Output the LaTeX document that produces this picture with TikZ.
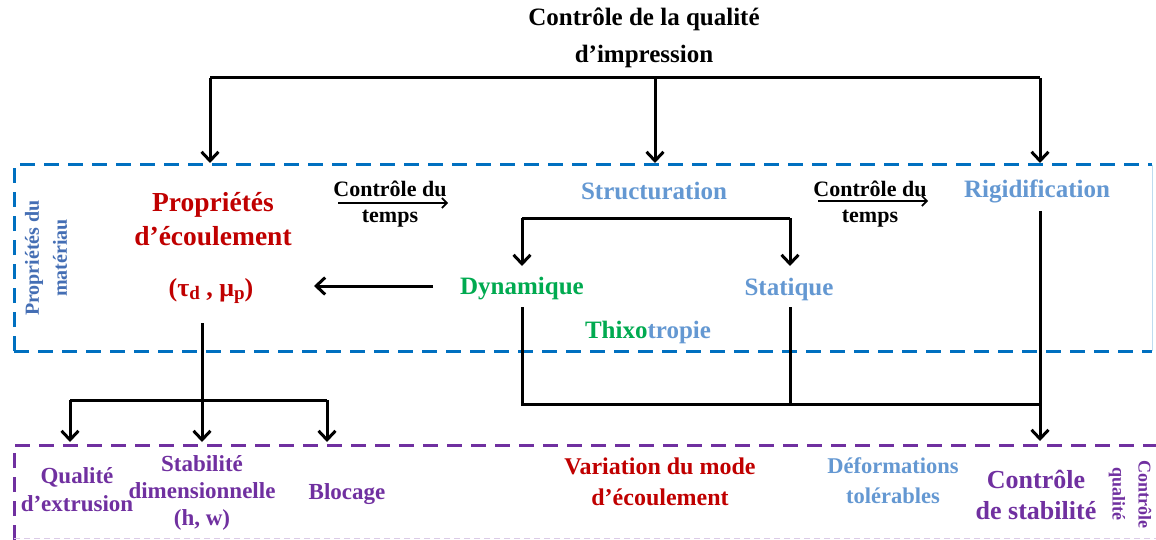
\documentclass[tikz,border=0pt]{standalone}
\usepackage{fontspec}
\setmainfont{Liberation Serif}
\usetikzlibrary{arrows.meta}
\definecolor{cred}{RGB}{192,0,0}
\definecolor{clblue}{RGB}{100,152,210}
\definecolor{cgreen}{RGB}{0,170,80}
\definecolor{cpurple}{RGB}{112,48,160}
\definecolor{cdblue}{RGB}{0,112,192}
\definecolor{csteel}{RGB}{68,110,180}
\newcommand\fsz[1]{\fontsize{#1}{#1}\selectfont}
\begin{document}
\begin{tikzpicture}[x=1pt,y=-1pt,
  lbl/.style={font=\bfseries, align=center, inner sep=0pt},
  conn/.style={line width=3pt, black},
  arr/.style={conn, -{Straight Barb[length=9pt,width=17pt]}},
  tarr/.style={line width=1.6pt, black, -{Straight Barb[length=5pt,width=10pt]}},
  bluebox/.style={cdblue, line width=3pt, dash pattern=on 15pt off 9pt},
  purplebox/.style={cpurple, line width=3pt, dash pattern=on 15pt off 9pt}]
\useasboundingbox (0,0) rectangle (1156,540);
\fill[white] (0,0) rectangle (1156,540);
% dashed frames
\draw[bluebox] (14,351) -- (14,165) -- (1152,165);
\draw[bluebox] (14,351) -- (1152,351);
\draw[cdblue!25, line width=0.8pt] (1152,165) -- (1152,351);
\draw[purplebox] (14,540) -- (14,445) -- (1156,445);
\draw[cpurple!25, line width=0.8pt, dash pattern=on 6pt off 4pt] (14,538) -- (1156,538);
% title
\node[lbl, font=\bfseries\fontsize{25}{37}\selectfont] (title) at (644,38) {Contrôle de la qualité\\d’impression};
% top level nodes
\node[lbl, cred, font=\bfseries\fontsize{27.5}{34}\selectfont] (prop) at (213,219) {Propriétés\\d’écoulement};
\node[lbl, cred, font=\bfseries\fsz{26}] (taumu) at (211,291) {(τ\raisebox{-0.3ex}{\fsz{19}d} , μ\raisebox{-0.3ex}{\fsz{19}p})};
\node[lbl, clblue, font=\bfseries\fsz{25}] (struct) at (654,191) {Structuration};
\node[lbl, clblue, font=\bfseries\fsz{25}] (rigid) at (1037,191) {Rigidification};
\node[lbl, cgreen, font=\bfseries\fsz{25}] (dyn) at (522,289) {Dynamique};
\node[lbl, clblue, font=\bfseries\fsz{25}] (stat) at (789,289) {Statique};
\node[lbl, font=\bfseries\fsz{25}] (thixo) at (648,332) {\textcolor{cgreen}{Thixo}\textcolor{clblue}{tropie}};
\node[lbl, font=\bfseries\fsz{22}] (ct1) at (390,189) {Contrôle du};
\node[lbl, font=\bfseries\fsz{22}] (tp1) at (390,219) {temps};
\node[lbl, font=\bfseries\fsz{22}] (ct2) at (870,189) {Contrôle du};
\node[lbl, font=\bfseries\fsz{22}] (tp2) at (870,219) {temps};
\node[lbl, csteel, rotate=90, font=\bfseries\fontsize{20}{28}\selectfont] (pmat) at (46,258) {Propriétés du\\matériau};
% bottom nodes
\node[lbl, cpurple, font=\bfseries\fontsize{23}{28}\selectfont] (qual) at (77,490) {Qualité\\d’extrusion};
\node[lbl, cpurple, font=\bfseries\fontsize{23}{27}\selectfont] (stab) at (202,493) {Stabilité\\dimensionnelle\\(h, w)};
\node[lbl, cpurple, font=\bfseries\fsz{23}] (bloc) at (347,494) {Blocage};
\node[lbl, cred, font=\bfseries\fontsize{24}{31}\selectfont] (var) at (660,482) {Variation du mode\\d’écoulement};
\node[lbl, clblue, font=\bfseries\fontsize{22.5}{30}\selectfont] (defo) at (893,481) {Déformations\\tolérables};
\node[lbl, cpurple, font=\bfseries\fontsize{26}{31}\selectfont] (cstab) at (1036,495) {Contrôle\\de stabilité};
\node[lbl, cpurple, rotate=-90, font=\bfseries\fontsize{18}{26}\selectfont] (cq) at (1130,494) {Contrôle\\qualité};
% coordinates
\coordinate (tl) at (210,78);
\coordinate (tm) at (655,78);
\coordinate (tr) at (1040,78);
\coordinate (al) at (210,163);
\coordinate (am) at (655,163);
\coordinate (ar) at (1040,163);
\coordinate (sl) at (522,218);
\coordinate (sr) at (790,218);
\coordinate (dl) at (522,266);
\coordinate (sd) at (790,266);
\coordinate (db) at (522,307);
\coordinate (sb) at (790,307);
\coordinate (rb) at (1040,211);
\coordinate (hl) at (522,404);
\coordinate (hm) at (790,404);
\coordinate (hr) at (1040,404);
\coordinate (rt) at (1040,441);
\coordinate (pa) at (202,323);
\coordinate (pj) at (202,400);
\coordinate (b1) at (70,400);
\coordinate (b3) at (327,400);
\coordinate (e1) at (70,442);
\coordinate (e2) at (202,442);
\coordinate (e3) at (327,442);
\coordinate (dya) at (433,286);
\coordinate (dye) at (314,286);
\coordinate (t1a) at (338,203);
\coordinate (t1b) at (448,203);
\coordinate (t2a) at (818,201);
\coordinate (t2b) at (928,201);
% connectors
\draw[conn] (tl) -- (tr);
\draw[arr] (tl) -- (al);
\draw[arr] (tm) -- (am);
\draw[arr] (tr) -- (ar);
\draw[conn] (sl) -- (sr);
\draw[arr] (sl) -- (dl);
\draw[arr] (sr) -- (sd);
\draw[arr] (dya) -- (dye);
\draw[tarr] (t1a) -- (t1b);
\draw[tarr] (t2a) -- (t2b);
\draw[conn] (db) -- (hl) -- (hr);
\draw[conn] (sb) -- (hm);
\draw[arr] (rb) -- (rt);
\draw[conn] (pa) -- (pj);
\draw[conn] (b1) -- (b3);
\draw[arr] (b1) -- (e1);
\draw[arr] (pj) -- (e2);
\draw[arr] (b3) -- (e3);
\end{tikzpicture}
\end{document}
